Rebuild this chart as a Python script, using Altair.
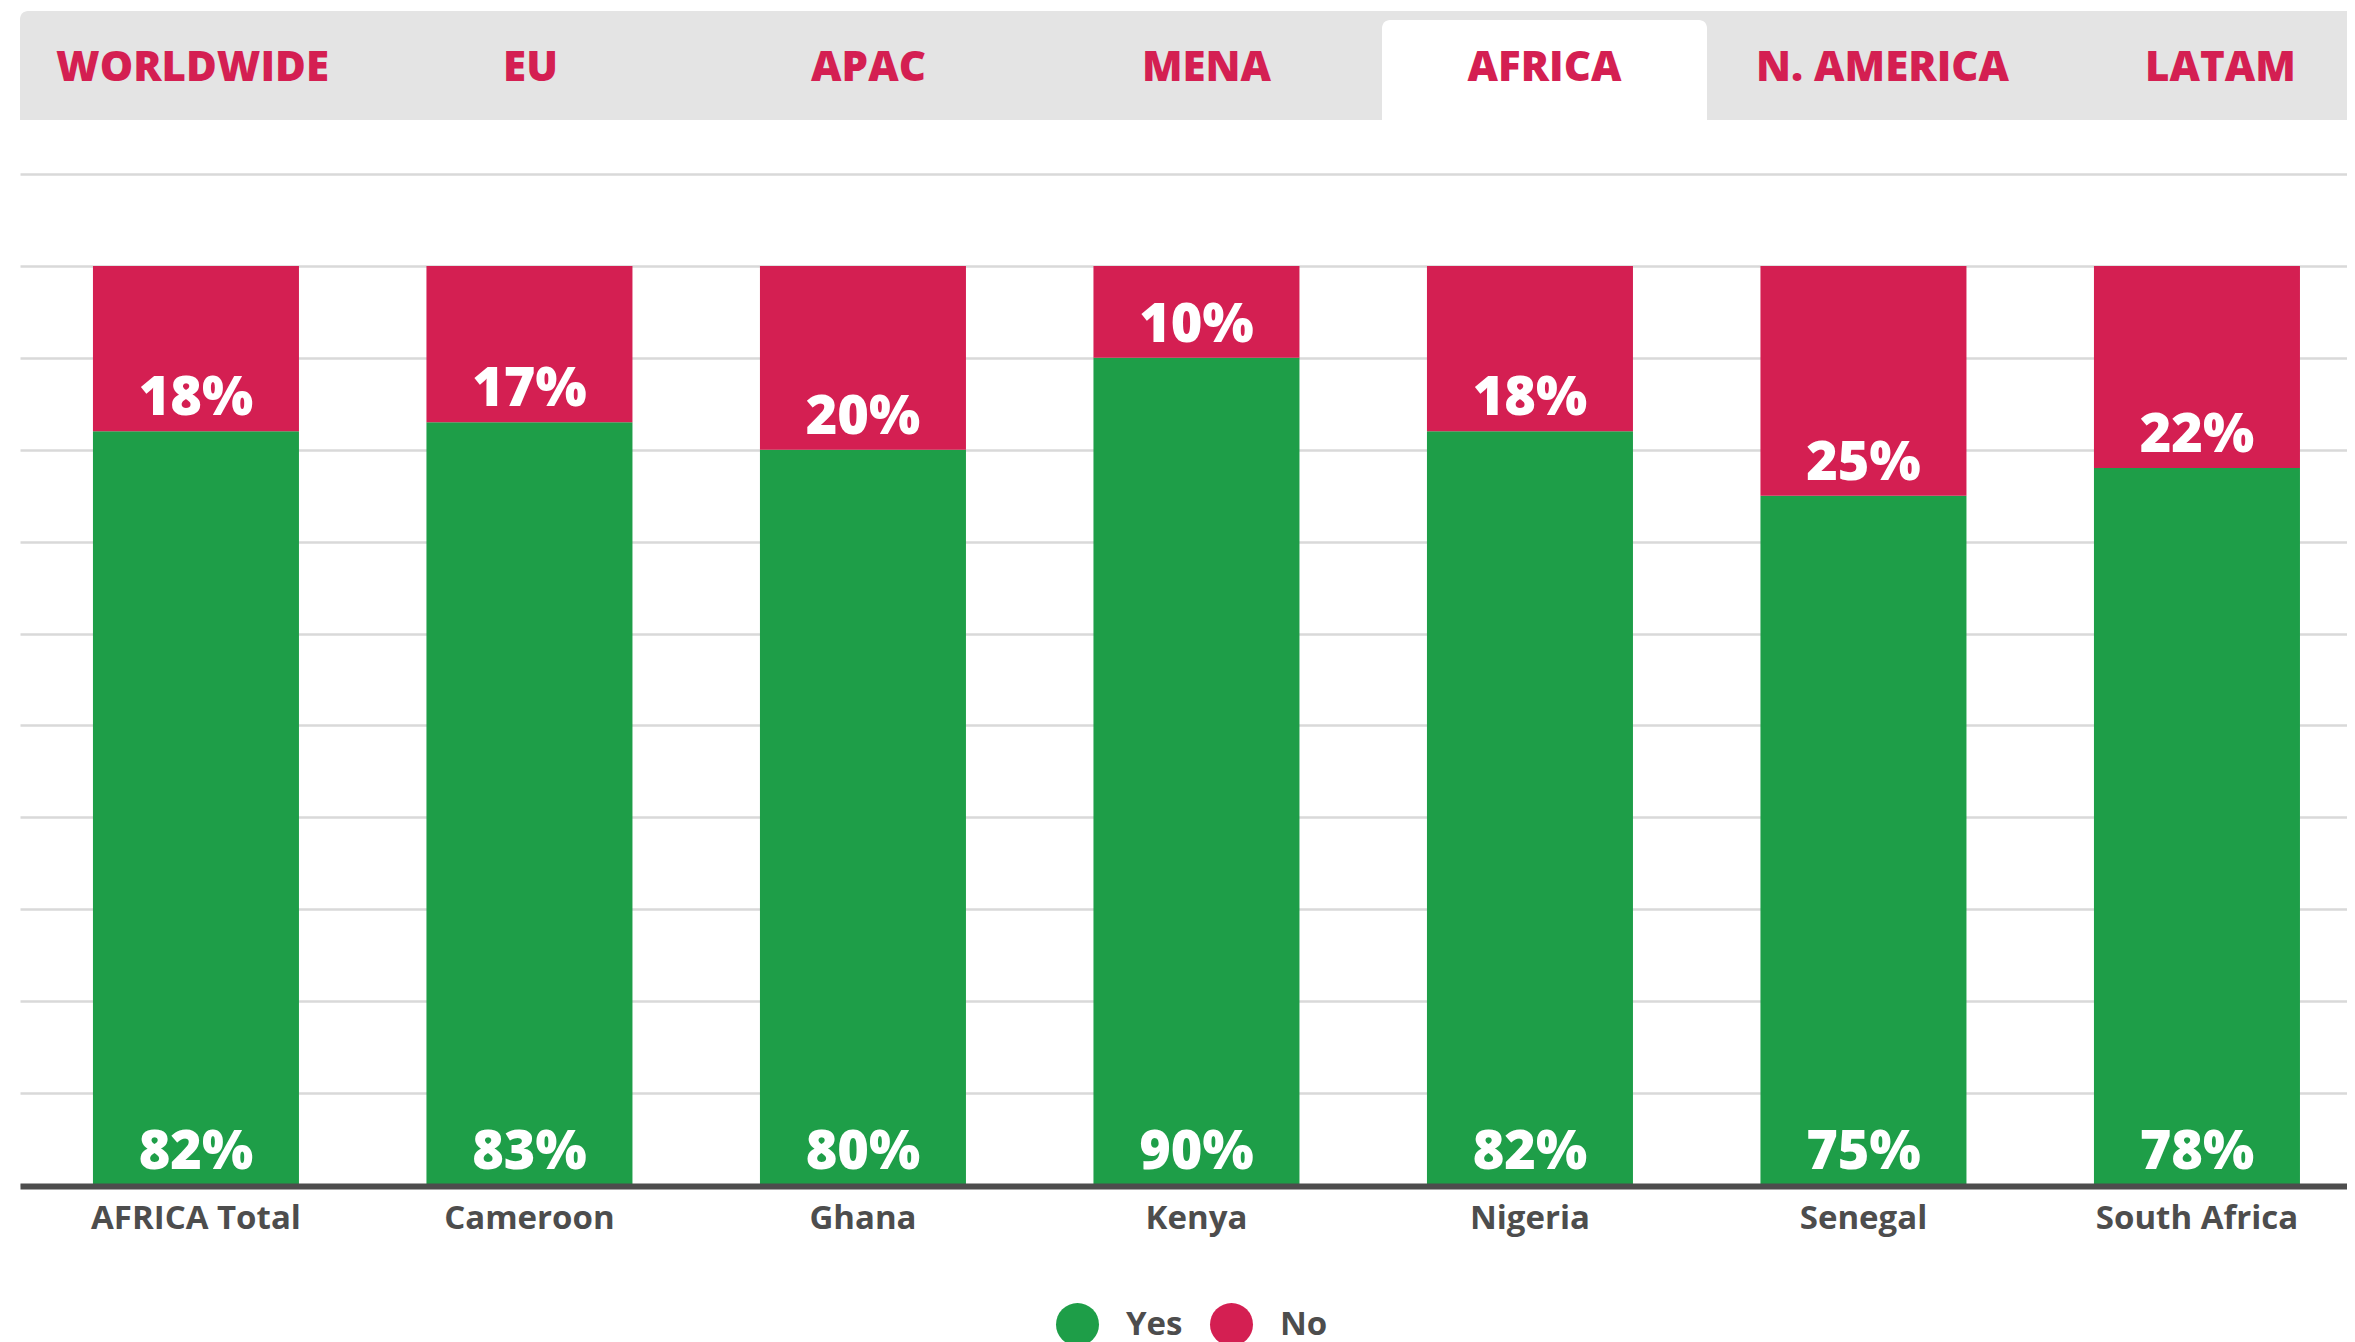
import altair as alt
import pandas as pd

# ---- data ----
countries = ["AFRICA Total", "Cameroon", "Ghana", "Kenya", "Nigeria", "Senegal", "South Africa"]
yes_vals = [82, 83, 80, 90, 82, 75, 78]
no_vals = [18, 17, 20, 10, 18, 25, 22]
answers = ["Yes", "No"]
tabs = ["WORLDWIDE", "EU", "APAC", "MENA", "AFRICA", "N. AMERICA", "LATAM"]
active_tab = "AFRICA"
y_ticks = [0, 10, 20, 30, 40, 50, 60, 70, 80, 90, 100, 110]

GREEN = "#1e9e48"
RED = "#d41f52"
DARK = "#4d4d4d"
GRID = "#d9d9d9"
TABGREY = "#e4e4e4"

rows = []
for c, yv, nv in zip(countries, yes_vals, no_vals):
    rows.append({"country": c, "answer": "Yes", "order": 0, "value": yv})
    rows.append({"country": c, "answer": "No", "order": 1, "value": nv})
df = pd.DataFrame(rows)

tab_df = pd.DataFrame({"tab": tabs, "active": [t == active_tab for t in tabs]})

W = 2327
H = 1011

# ---- bars ----
base = alt.Chart(df).transform_stack(
    stack="value", groupby=["country"], as_=["y0", "y1"],
    sort=[alt.SortField("order", order="ascending")]
).transform_calculate(label="datum.value + '%'")

x_scale = alt.Scale(paddingInner=0.3823, paddingOuter=0.1799, align=0.608)
x_enc = alt.X(
    "country:N", sort=countries, title=None, scale=x_scale,
    axis=alt.Axis(labelAngle=0, labelFontSize=33, labelFontWeight="bold",
                  labelColor=DARK, labelBaseline="alphabetic", labelPadding=42,
                  labelLimit=0, ticks=False, tickSize=0, domainColor=DARK,
                  domainWidth=6, offset=1, zindex=1, grid=False),
)
y_enc = alt.Y(
    "y0:Q", title=None, scale=alt.Scale(domain=[0, 110], nice=False),
    axis=alt.Axis(values=y_ticks, labels=False, ticks=False, domain=False,
                  grid=True, gridColor=GRID, gridWidth=2.5),
)

bars = base.mark_bar().encode(
    x=x_enc, y=y_enc, y2="y1:Q",
    color=alt.Color(
        "answer:N", scale=alt.Scale(domain=answers, range=[GREEN, RED]),
        legend=alt.Legend(orient="none", legendX=1036, legendY=1129,
                          direction="horizontal", title=None, symbolType="circle",
                          symbolSize=1849, symbolStrokeWidth=0, symbolOpacity=1,
                          labelFontSize=33, labelFontWeight="bold", labelColor=DARK,
                          labelOffset=27, columnPadding=27, padding=0),
    ),
    order=alt.Order("order:Q"),
)

texts = base.mark_text(color="white", fontSize=54, fontWeight=800,
                       baseline="alphabetic", align="center", dy=-16).encode(
    x=alt.X("country:N", sort=countries),
    y=alt.Y("y0:Q"),
    text="label:N",
)

# ---- tab bar ----
tab_x = alt.X("tab:N", sort=tabs, title=None,
              scale=alt.Scale(range=[10, 2363], paddingInner=0.0385, paddingOuter=0),
              axis=None)

tab_bg = alt.Chart(alt.Data(values=[{"k": 1}])).mark_rect(
    color=TABGREY, cornerRadiusTopLeft=8
).encode(x=alt.value(0), x2=alt.value(W), y=alt.value(-163), y2=alt.value(-54))

tab_active = alt.Chart(tab_df).transform_filter("datum.active").mark_rect(
    color="white", cornerRadiusTopLeft=8, cornerRadiusTopRight=8
).encode(x=tab_x, y=alt.value(-154), y2=alt.value(-54))

tab_text = alt.Chart(tab_df).mark_text(
    fontSize=42, fontWeight=800, color=RED, baseline="alphabetic", align="center"
).encode(x=tab_x, y=alt.value(-93.5), text="tab:N")

tab_layer = alt.layer(tab_bg, tab_active, tab_text)
plot_layer = alt.layer(bars, texts)

chart = alt.layer(tab_layer, plot_layer).resolve_scale(x="independent").properties(
    width=W, height=H,
    padding={"left": 12, "top": 3, "right": 0, "bottom": 0},
).configure(font="Open Sans").configure_view(stroke=None)

chart.save("out.html", embed_options={"renderer": "svg", "actions": False})
